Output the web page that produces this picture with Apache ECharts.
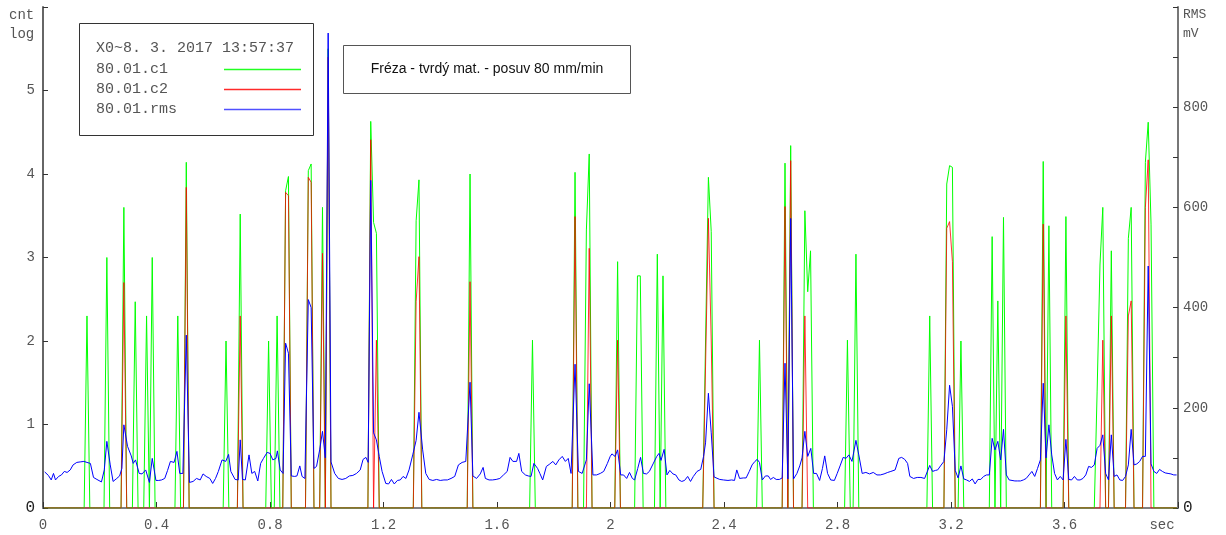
<!DOCTYPE html>
<html>
<head>
<meta charset="utf-8">
<script src="https://cdn.jsdelivr.net/npm/echarts@6/dist/echarts.min.js"></script>
<style>
  html, body { margin: 0; padding: 0; background: #fff; }
  #chart { width: 1226px; height: 535px; }
</style>
</head>
<body>
<div id="chart"></div>
<script>
// Acquisition grid: one sample every 10 ms, first sample at 5 ms
const SAMPLE_START = 0.005;
const SAMPLE_STEP = 0.01;
const SAMPLE_COUNT = 400;

// Channel c1 (cnt, log) – samples that are not zero: [time s, value]
const c1Hits = [
  [0.155,2.30],[0.225,3.00],[0.285,3.60],[0.325,2.47],[0.365,2.30],[0.385,3.00],
  [0.475,2.30],[0.505,4.14],[0.645,2.00],[0.695,3.52],[0.795,2.00],[0.825,2.30],
  [0.855,3.80],[0.865,3.97],[0.935,4.04],[0.945,4.12],[0.985,3.60],[1.005,5.50],
  [1.155,4.63],[1.165,3.42],[1.175,3.29],[1.315,3.44],[1.325,3.93],[1.505,4.00],
  [1.725,2.01],[1.875,4.02],[1.915,3.33],[1.925,4.24],[2.025,2.95],[2.095,2.78],
  [2.105,2.78],[2.165,3.04],[2.185,2.78],[2.335,2.00],[2.345,3.96],[2.355,3.31],
  [2.525,2.01],[2.615,4.13],[2.635,4.34],[2.685,3.56],[2.695,2.59],[2.705,3.08],
  [2.835,2.01],[2.865,3.04],[3.125,2.30],[3.185,3.88],[3.195,4.10],[3.205,4.08],
  [3.235,2.00],[3.345,3.25],[3.365,2.48],[3.385,3.48],[3.525,4.15],[3.545,3.38],
  [3.605,3.49],[3.715,1.40],[3.725,2.91],[3.735,3.60],[3.765,3.08],[3.825,3.23],
  [3.835,3.60],[3.885,4.14],[3.895,4.62],[3.905,3.40]
];

// Channel c2 (cnt, log) – samples that are not zero: [time s, value]
const c2Hits = [
  [0.285,2.70],[0.505,3.84],[0.695,2.30],[0.855,3.78],[0.865,3.74],[0.935,3.96],
  [0.945,3.90],[0.985,3.05],[1.005,5.40],[1.155,4.41],[1.175,2.01],[1.315,2.47],
  [1.325,3.01],[1.505,2.71],[1.875,3.49],[1.925,3.11],[2.025,2.01],[2.335,1.70],
  [2.345,3.47],[2.355,2.00],[2.615,3.61],[2.635,4.16],[2.685,2.30],[3.185,3.35],
  [3.195,3.43],[3.205,2.95],[3.525,3.40],[3.605,2.30],[3.735,2.01],[3.765,2.30],
  [3.825,2.30],[3.835,2.48],[3.885,3.60],[3.895,4.17]
];

// RMS level in mV: [time s, value]
const rmsPoints = [
  [0.006,72],[0.019,65],[0.029,56],[0.037,69],[0.044,56],[0.055,63],[0.065,66],[0.075,73],
  [0.085,71],[0.096,76],[0.106,86],[0.119,91],[0.131,92],[0.144,93],[0.155,91],[0.167,89],
  [0.178,61],[0.190,57],[0.206,52],[0.216,76],[0.225,133],[0.237,86],[0.247,53],[0.260,59],
  [0.270,64],[0.278,79],[0.285,166],[0.298,123],[0.311,104],[0.318,89],[0.326,96],[0.339,69],
  [0.349,68],[0.362,76],[0.375,51],[0.385,99],[0.398,55],[0.408,55],[0.418,56],[0.429,59],
  [0.439,75],[0.449,93],[0.462,91],[0.472,113],[0.482,69],[0.493,69],[0.505,345],[0.516,51],
  [0.529,53],[0.541,59],[0.554,56],[0.564,68],[0.575,63],[0.588,59],[0.598,49],[0.608,59],
  [0.618,73],[0.631,96],[0.644,93],[0.654,107],[0.662,73],[0.677,57],[0.688,56],[0.695,136],
  [0.703,57],[0.713,56],[0.726,106],[0.736,69],[0.746,73],[0.757,54],[0.767,89],[0.777,99],
  [0.790,111],[0.800,109],[0.810,96],[0.821,99],[0.826,114],[0.836,76],[0.846,69],[0.855,329],
  [0.865,309],[0.875,64],[0.887,63],[0.895,64],[0.905,84],[0.913,63],[0.923,59],[0.935,416],
  [0.945,400],[0.955,79],[0.964,83],[0.975,116],[0.985,153],[0.995,100],[1.005,948],[1.015,92],
  [1.028,69],[1.041,59],[1.054,57],[1.067,59],[1.080,64],[1.092,65],[1.105,69],[1.118,76],
  [1.128,97],[1.138,101],[1.146,91],[1.155,654],[1.165,150],[1.175,136],[1.185,103],[1.195,73],
  [1.208,49],[1.218,48],[1.228,57],[1.238,48],[1.249,55],[1.259,56],[1.269,63],[1.279,59],
  [1.290,76],[1.303,106],[1.315,135],[1.325,191],[1.338,116],[1.349,69],[1.361,57],[1.374,55],
  [1.387,57],[1.400,55],[1.413,56],[1.425,56],[1.438,59],[1.451,63],[1.464,86],[1.477,91],
  [1.490,93],[1.505,251],[1.515,64],[1.528,59],[1.541,68],[1.551,81],[1.559,59],[1.572,56],
  [1.584,56],[1.597,57],[1.610,59],[1.623,66],[1.636,73],[1.646,101],[1.656,93],[1.669,93],
  [1.677,109],[1.687,73],[1.700,66],[1.710,64],[1.720,63],[1.730,89],[1.743,79],[1.751,69],
  [1.761,56],[1.774,83],[1.784,87],[1.797,93],[1.807,86],[1.818,96],[1.830,103],[1.841,93],
  [1.851,99],[1.861,69],[1.875,287],[1.887,73],[1.900,69],[1.915,96],[1.925,248],[1.938,66],
  [1.951,66],[1.964,69],[1.976,73],[1.989,89],[1.999,103],[2.005,108],[2.016,103],[2.025,116],
  [2.036,66],[2.046,66],[2.057,59],[2.067,71],[2.077,59],[2.085,56],[2.096,79],[2.106,101],
  [2.116,69],[2.127,68],[2.137,73],[2.150,88],[2.163,103],[2.171,109],[2.178,95],[2.189,117],
  [2.199,66],[2.209,75],[2.220,68],[2.230,66],[2.241,56],[2.251,53],[2.261,55],[2.272,63],
  [2.282,53],[2.292,63],[2.305,73],[2.318,77],[2.328,103],[2.335,130],[2.345,229],[2.355,150],
  [2.365,62],[2.385,57],[2.398,56],[2.414,55],[2.427,56],[2.437,55],[2.445,76],[2.455,59],
  [2.468,60],[2.478,60],[2.489,73],[2.499,86],[2.509,93],[2.517,97],[2.525,91],[2.535,56],
  [2.546,64],[2.556,64],[2.564,57],[2.574,61],[2.584,57],[2.595,57],[2.605,60],[2.615,289],
  [2.625,58],[2.635,578],[2.645,58],[2.657,69],[2.667,84],[2.675,100],[2.685,153],[2.695,103],
  [2.706,119],[2.716,69],[2.726,69],[2.737,55],[2.747,79],[2.755,104],[2.765,69],[2.776,56],
  [2.789,55],[2.799,69],[2.809,84],[2.820,101],[2.830,99],[2.840,106],[2.851,93],[2.865,135],
  [2.875,106],[2.887,69],[2.900,71],[2.913,68],[2.926,71],[2.939,66],[2.951,66],[2.964,68],
  [2.977,71],[2.988,73],[3.003,76],[3.016,99],[3.026,101],[3.037,97],[3.047,89],[3.055,63],
  [3.068,59],[3.081,61],[3.094,61],[3.107,59],[3.125,85],[3.135,73],[3.145,75],[3.153,76],
  [3.163,84],[3.175,93],[3.185,156],[3.195,245],[3.205,203],[3.215,75],[3.225,60],[3.235,84],
  [3.245,58],[3.255,56],[3.265,53],[3.275,58],[3.285,48],[3.295,57],[3.305,57],[3.315,63],
  [3.325,66],[3.335,66],[3.345,139],[3.355,116],[3.365,133],[3.375,96],[3.385,157],[3.395,66],
  [3.405,56],[3.415,55],[3.425,54],[3.435,54],[3.445,54],[3.455,56],[3.465,59],[3.475,66],
  [3.485,73],[3.495,63],[3.505,79],[3.515,96],[3.525,249],[3.535,100],[3.545,166],[3.555,106],
  [3.565,69],[3.575,56],[3.585,63],[3.595,56],[3.605,137],[3.615,57],[3.625,56],[3.635,63],
  [3.645,56],[3.655,56],[3.665,59],[3.675,66],[3.685,83],[3.695,81],[3.705,86],[3.715,119],
  [3.725,125],[3.735,146],[3.745,69],[3.755,56],[3.765,146],[3.775,63],[3.785,66],[3.795,56],
  [3.805,55],[3.815,63],[3.825,86],[3.835,157],[3.845,86],[3.855,88],[3.865,93],[3.875,103],
  [3.885,103],[3.895,483],[3.905,88],[3.915,73],[3.925,69],[3.935,77],[3.945,73],[3.955,70],
  [3.965,69],[3.975,68],[3.985,66],[3.995,66]
];

// Axis tick labels
const timeLabels = ['0','0.4','0.8','1.2','1.6','2','2.4','2.8','3.2','3.6','sec'];
const cntLabels = ['0','1','2','3','4','5',''];
const rmsLabels = ['0','','200','','400','','600','','800','',''];

// Legend / title texts
const legendHeader = 'X0~8. 3. 2017 13:57:37';
const seriesNames = ['80.01.c1', '80.01.c2', '80.01.rms'];
const titleText = 'Fréza - tvrdý mat. - posuv 80 mm/min';

// Expand sparse hit lists onto the full sample grid (zero between hits)
function onSampleGrid(hits) {
  const byIndex = new Map(hits.map(([t, v]) => [Math.round((t - SAMPLE_START) / SAMPLE_STEP), v]));
  const out = [];
  for (let k = 0; k < SAMPLE_COUNT; k++) {
    out.push([+(SAMPLE_START + k * SAMPLE_STEP).toFixed(3), byIndex.has(k) ? byIndex.get(k) : 0]);
  }
  return out;
}

const MONO = '"Liberation Mono", "DejaVu Sans Mono", monospace';
const LABEL_GRAY = '#555';
const AXIS_GRAY = '#808080';

const chart = echarts.init(document.getElementById('chart'), null, { renderer: 'canvas' });

const legendY = [69, 89, 109];
const legendColors = ['#22ff22', '#ff2a2a', '#5050ff'];

const graphics = [
  // left axis caption
  { type: 'text', left: null, x: 9, y: 15, z: 100,
    style: { text: 'cnt', font: '14px ' + MONO, fill: LABEL_GRAY, verticalAlign: 'middle' } },
  { type: 'text', x: 9, y: 34, z: 100,
    style: { text: 'log', font: '14px ' + MONO, fill: LABEL_GRAY, verticalAlign: 'middle' } },
  // right axis caption
  { type: 'text', x: 1183, y: 15, z: 100,
    style: { text: 'RMS', font: '13px ' + MONO, fill: LABEL_GRAY, verticalAlign: 'middle' } },
  { type: 'text', x: 1183, y: 34, z: 100,
    style: { text: 'mV', font: '13px ' + MONO, fill: LABEL_GRAY, verticalAlign: 'middle' } },
  // legend box
  { type: 'rect', z: 100, shape: { x: 79.5, y: 23.5, width: 234, height: 112 },
    style: { fill: '#fff', stroke: '#333', lineWidth: 1 } },
  { type: 'text', x: 96, y: 48, z: 101,
    style: { text: legendHeader, font: '15px ' + MONO, fill: LABEL_GRAY, verticalAlign: 'middle' } },
  // title box
  { type: 'rect', z: 100, shape: { x: 343.5, y: 45.5, width: 287, height: 48 },
    style: { fill: '#fff', stroke: '#555', lineWidth: 1 } },
  { type: 'text', x: 487, y: 69, z: 101,
    style: { text: titleText, font: '14px "Liberation Sans", Arial, sans-serif', fill: '#111',
             align: 'center', verticalAlign: 'middle' } }
];
seriesNames.forEach((name, i) => {
  graphics.push({ type: 'text', x: 96, y: legendY[i], z: 101,
    style: { text: name, font: '15px ' + MONO, fill: LABEL_GRAY, verticalAlign: 'middle' } });
  graphics.push({ type: 'line', z: 101, shape: { x1: 224, y1: legendY[i] + 0.5, x2: 301, y2: legendY[i] + 0.5 },
    style: { stroke: legendColors[i], lineWidth: 1.5 } });
});

const option = {
  animation: false,
  backgroundColor: '#fff',
  grid: { left: 43, right: 48, top: 7, bottom: 27, containLabel: false },
  xAxis: {
    type: 'value', min: 0, max: 4, interval: 0.4,
    axisLine: { show: true, onZero: false, lineStyle: { color: AXIS_GRAY, width: 2 } },
    axisTick: { show: true, inside: true, length: 6, lineStyle: { color: '#333', width: 1 } },
    splitLine: { show: false },
    axisLabel: {
      margin: 10, color: LABEL_GRAY, fontFamily: MONO, fontSize: 14,
      formatter: v => {
        const s = timeLabels[Math.round(v / 0.4)] || '';
        return s === 'sec' ? '{sec|sec}' : s;
      },
      rich: { sec: { fontFamily: MONO, fontSize: 14, color: LABEL_GRAY, padding: [0, 32, 0, 0] } }
    }
  },
  yAxis: [
    {
      type: 'value', min: 0, max: 6, interval: 1, position: 'left',
      axisLine: { show: true, onZero: false, lineStyle: { color: '#666', width: 2 } },
      axisTick: { show: true, inside: true, length: 5, lineStyle: { color: '#333' } },
      splitLine: { show: false },
      axisLabel: {
        margin: 8, color: LABEL_GRAY, fontFamily: MONO, fontSize: 14,
        formatter: v => {
          const s = cntLabels[Math.round(v)] || '';
          return s === '0' ? '{z|0}' : s;
        },
        rich: { z: { fontFamily: MONO, fontSize: 16, color: '#222' } }
      }
    },
    {
      type: 'value', min: 0, max: 1000, interval: 100, position: 'right',
      axisLine: { show: true, onZero: false, lineStyle: { color: '#777', width: 2 } },
      axisTick: { show: true, inside: true, length: 5, lineStyle: { color: '#333' } },
      splitLine: { show: false },
      axisLabel: {
        margin: 5, color: LABEL_GRAY, fontFamily: MONO, fontSize: 14,
        formatter: v => {
          const s = rmsLabels[Math.round(v / 100)] || '';
          return s === '0' ? '{z|0}' : s;
        },
        rich: { z: { fontFamily: MONO, fontSize: 16, color: '#222' } }
      }
    }
  ],
  graphic: graphics,
  series: [
    {
      name: seriesNames[0], type: 'line', yAxisIndex: 0, data: onSampleGrid(c1Hits),
      showSymbol: false, symbol: 'none', silent: true, z: 2,
      lineStyle: { color: '#00ff00', width: 1 }, itemStyle: { color: '#00ff00' }
    },
    {
      name: seriesNames[1], type: 'line', yAxisIndex: 0, data: onSampleGrid(c2Hits),
      showSymbol: false, symbol: 'none', silent: true, z: 3,
      lineStyle: { color: '#ff0000', width: 1, opacity: 0.8 }, itemStyle: { color: '#ff0000' }
    },
    {
      name: seriesNames[2], type: 'line', yAxisIndex: 1, data: rmsPoints,
      showSymbol: false, symbol: 'none', silent: true, z: 4,
      lineStyle: { color: '#0000ff', width: 1 }, itemStyle: { color: '#0000ff' }
    }
  ]
};

chart.setOption(option);
</script>
</body>
</html>
